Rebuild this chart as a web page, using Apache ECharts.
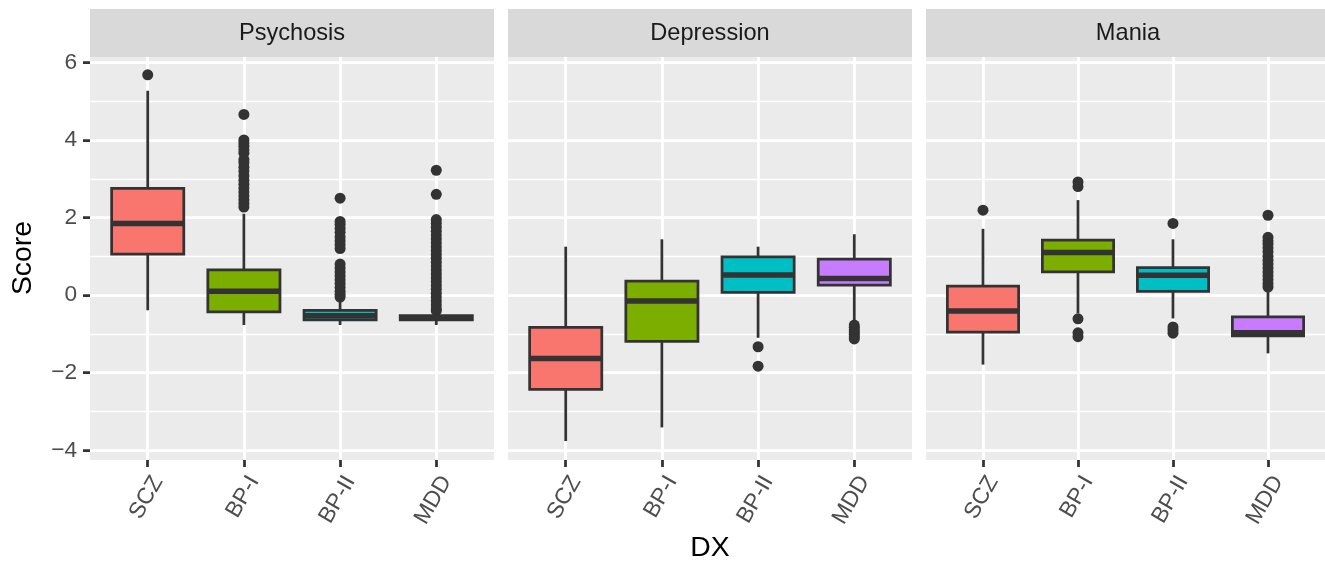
<!DOCTYPE html>
<html>
<head>
<meta charset="utf-8">
<title>Score by DX</title>
<script src="https://cdn.jsdelivr.net/npm/echarts@6/dist/echarts.min.js"></script>
<style>
  html, body { margin: 0; padding: 0; background: #fff; }
  #chart { width: 1325px; height: 563px; }
</style>
</head>
<body>
<div id="chart"></div>
<script>
// facets, groups, ticks
var panels = ['Psychosis', 'Depression', 'Mania'];
var groups = ['SCZ', 'BP-I', 'BP-II', 'MDD'];
var yTicks = [-4, -2, 0, 2, 4, 6];
var yMinor = [-3, -1, 1, 3, 5];

// box stats per group: [lower whisker, Q1, median, Q3, upper whisker]
var psychosisBox = [
  [-0.39, 1.06, 1.85, 2.75, 5.27],
  [-0.77, -0.43, 0.10, 0.65, 2.10],
  [-0.77, -0.64, -0.53, -0.39, -0.08],
  [-0.77, -0.64, -0.59, -0.53, -0.45]
];
var depressionBox = [
  [-3.76, -2.43, -1.63, -0.83, 1.25],
  [-3.41, -1.19, -0.15, 0.36, 1.44],
  [-1.10, 0.07, 0.52, 0.99, 1.25],
  [-0.64, 0.26, 0.43, 0.93, 1.57]
];
var maniaBox = [
  [-1.79, -0.95, -0.41, 0.23, 1.71],
  [-0.47, 0.60, 1.10, 1.42, 2.45],
  [-0.60, 0.10, 0.51, 0.71, 1.44],
  [-1.50, -1.05, -0.97, -0.56, 0.08]
];

// outlying points per group
var psychosisOut = [
  [5.68],
  [4.66, 4.00, 3.92, 3.84, 3.75, 3.66, 3.50, 3.42, 3.30, 3.20, 3.08, 2.96, 2.86, 2.76, 2.66, 2.56, 2.46, 2.36, 2.27],
  [2.50, 1.90, 1.82, 1.72, 1.62, 1.50, 1.40, 1.30, 1.20, 0.80, 0.70, 0.60, 0.50, 0.40, 0.30, 0.20, 0.10, 0.02, -0.05],
  [3.22, 2.60, 1.95, 1.85, 1.75, 1.65, 1.55, 1.45, 1.35, 1.25, 1.15, 1.05, 0.95, 0.85, 0.75, 0.65, 0.55, 0.45, 0.35, 0.25, 0.15, 0.05, -0.05, -0.15, -0.25, -0.35, -0.40]
];
var depressionOut = [
  [],
  [],
  [-1.33, -1.83],
  [-0.77, -0.83, -0.89, -0.95, -1.01, -1.07, -1.13]
];
var maniaOut = [
  [2.19],
  [2.92, 2.80, -0.61, -0.97, -1.07],
  [1.85, -0.82, -0.90, -0.98],
  [2.06, 1.49, 1.40, 1.32, 1.22, 1.12, 1.00, 0.90, 0.80, 0.70, 0.60, 0.50, 0.40, 0.30, 0.21]
];

var boxSets = [psychosisBox, depressionBox, maniaBox];
var outSets = [psychosisOut, depressionOut, maniaOut];
var fills = ['#F8766D', '#7CAE00', '#00BFC4', '#C77CFF'];

var panelLeft = [90, 508, 926];
var panelWidth = 404;
var panelTop = 57;
var panelHeight = 403;
var yMin = -4.25, yMax = 6.14;
var lw = 2.75;
var font = 'Liberation Sans, Arial, sans-serif';

function minusLabel(v) {
  return v < 0 ? '\u2212' + Math.abs(v) : String(v);
}

function renderBox(params, api) {
  var x = api.value(0);
  var lo = api.coord([x, api.value(1)]);
  var q1 = api.coord([x, api.value(2)]);
  var md = api.coord([x, api.value(3)]);
  var q3 = api.coord([x, api.value(4)]);
  var hi = api.coord([x, api.value(5)]);
  var half = api.size([1, 0])[0] * 0.375;
  var cx = lo[0];
  var line = { stroke: '#333333', lineWidth: lw };
  return {
    type: 'group',
    children: [
      { type: 'line', shape: { x1: cx, y1: lo[1], x2: cx, y2: hi[1] }, style: line },
      { type: 'rect', shape: { x: cx - half, y: q3[1], width: half * 2, height: q1[1] - q3[1] },
        style: { fill: fills[x - 1], stroke: '#333333', lineWidth: lw } },
      { type: 'line', shape: { x1: cx - half, y1: md[1], x2: cx + half, y2: md[1] },
        style: { stroke: '#333333', lineWidth: lw * 2 } }
    ]
  };
}

var grids = [], xAxes = [], yAxes = [], series = [], graphics = [];

panels.forEach(function (name, i) {
  grids.push({
    left: panelLeft[i], top: panelTop, width: panelWidth, height: panelHeight,
    show: true, backgroundColor: '#EBEBEB', borderWidth: 0
  });

  xAxes.push({
    gridIndex: i, type: 'value', min: 0.4, max: 4.6, position: 'bottom',
    axisLine: { show: false, onZero: false },
    axisTick: { show: true, customValues: [1, 2, 3, 4], length: 7,
      lineStyle: { color: '#333333', width: lw } },
    axisLabel: { customValues: [1, 2, 3, 4], rotate: 60, margin: 12,
      verticalAlign: 'top',
      color: '#4D4D4D', fontSize: 22.7, fontFamily: font,
      formatter: function (v) { return groups[v - 1]; } },
    splitLine: { show: true, lineStyle: { color: '#FFFFFF', width: lw } }
  });

  yAxes.push({
    gridIndex: i, type: 'value', min: yMin, max: yMax, position: 'left',
    axisLine: { show: false, onZero: false },
    axisTick: { show: i === 0, customValues: yTicks, length: 7,
      lineStyle: { color: '#333333', width: lw } },
    axisLabel: { show: i === 0, customValues: yTicks, margin: 13,
      color: '#4D4D4D', fontSize: 22.7, fontFamily: font, formatter: minusLabel },
    splitLine: { show: true, lineStyle: { color: '#FFFFFF', width: lw } }
  });
  yAxes.push({
    gridIndex: i, type: 'value', min: yMin, max: yMax, position: 'left',
    axisLine: { show: false, onZero: false },
    axisTick: { show: false, customValues: yMinor },
    axisLabel: { show: false, customValues: yMinor },
    splitLine: { show: true, lineStyle: { color: '#FFFFFF', width: lw / 2 } }
  });

  var pts = [];
  outSets[i].forEach(function (vals, k) {
    vals.forEach(function (v) { pts.push([k + 1, v]); });
  });
  series.push({
    type: 'scatter', xAxisIndex: i, yAxisIndex: 2 * i, z: 2,
    symbolSize: 11, itemStyle: { color: '#333333', opacity: 1 },
    data: pts
  });
  series.push({
    type: 'custom', xAxisIndex: i, yAxisIndex: 2 * i, z: 3,
    renderItem: renderBox,
    encode: { x: 0, y: [1, 2, 3, 4, 5] },
    data: boxSets[i].map(function (b, k) { return [k + 1].concat(b); })
  });

  // facet strip
  graphics.push({
    type: 'rect', left: panelLeft[i], top: 9,
    shape: { width: panelWidth, height: panelTop - 9 },
    style: { fill: '#D9D9D9' }
  });
  graphics.push({
    type: 'text', x: panelLeft[i] + panelWidth / 2, y: 33,
    style: { text: name, fill: '#1A1A1A', fontSize: 23.6, fontFamily: font,
      align: 'center', verticalAlign: 'middle' }
  });
});

graphics.push({
  type: 'text', x: 710, y: 548,
  style: { text: 'DX', fill: '#000000', fontSize: 28.4, fontFamily: font,
    align: 'center', verticalAlign: 'middle' }
});
graphics.push({
  type: 'text', x: 23, y: 258, rotation: Math.PI / 2,
  style: { text: 'Score', fill: '#000000', fontSize: 28.4, fontFamily: font,
    align: 'center', verticalAlign: 'middle' }
});

var chart = echarts.init(document.getElementById('chart'));
chart.setOption({
  animation: false,
  backgroundColor: '#FFFFFF',
  textStyle: { fontFamily: font },
  grid: grids,
  xAxis: xAxes,
  yAxis: yAxes,
  series: series,
  graphic: graphics
});
</script>
</body>
</html>
